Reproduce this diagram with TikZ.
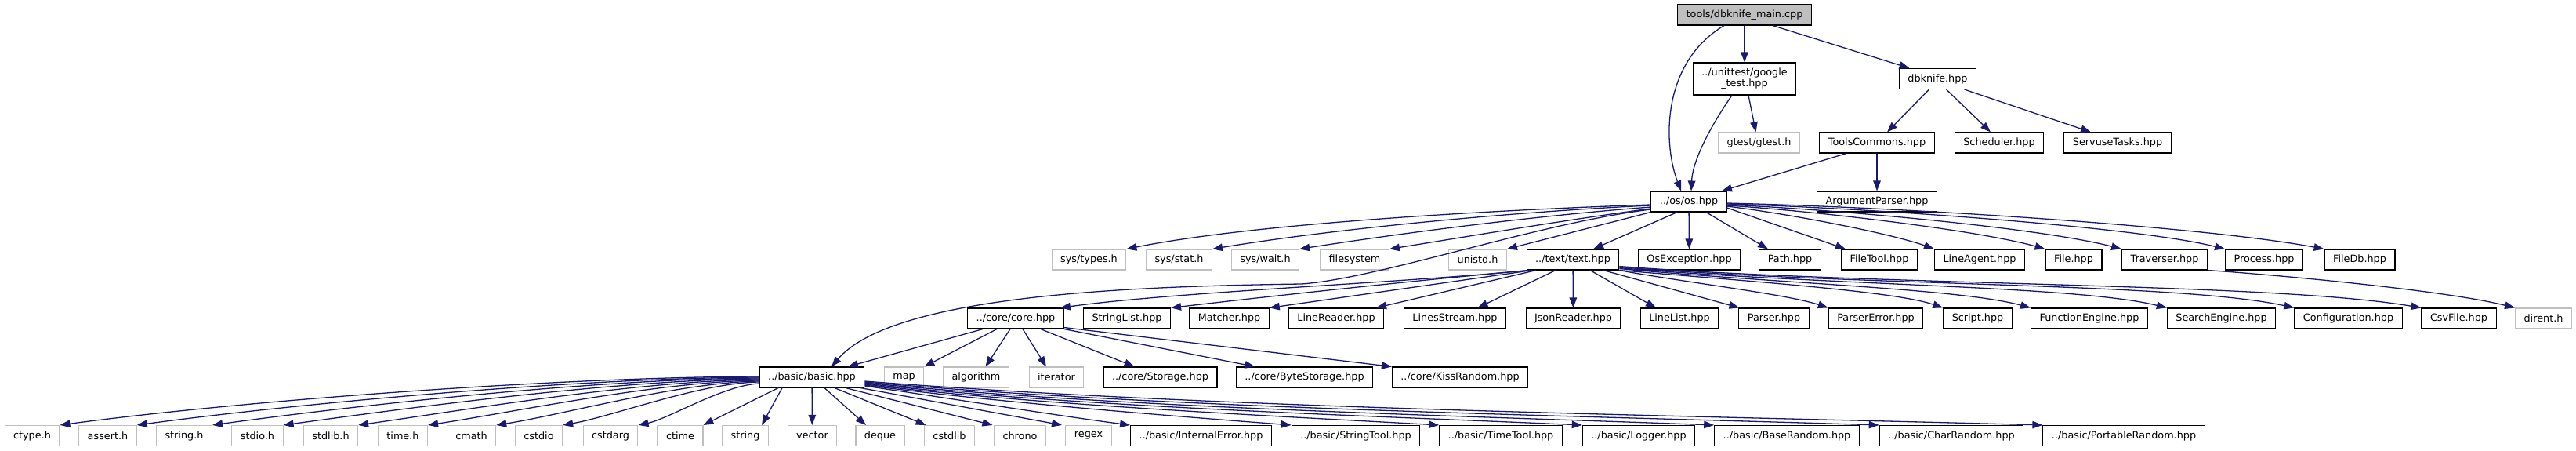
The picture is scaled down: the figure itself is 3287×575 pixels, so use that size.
\documentclass[tikz,border=0pt]{standalone}
\usepackage{fontspec}
\setmainfont{DejaVu Sans}
\usepackage{tikz}
\usetikzlibrary{arrows.meta}
\definecolor{edgeblue}{RGB}{25, 25, 112}
\definecolor{sysgray}{RGB}{191, 191, 191}

\begin{document}
\begin{tikzpicture}[
            x=1pt, y=-1pt,
            hdr/.style={draw=black, fill=white, line width=1.1pt,
                        font=\fontsize{12.8pt}{14pt}\selectfont, align=center,
                        inner xsep=11pt, inner ysep=0pt, minimum height=26pt},
            sys/.style={hdr, draw=sysgray},
            cur/.style={hdr, fill=sysgray},
            arr/.style={-{Triangle[length=13pt,width=9.5pt]}, line width=1.3pt, color=edgeblue}
          ]
          \useasboundingbox (0,0) rectangle (3287,575);
          % top part
          \node[cur] (main)  at (2226,19)    {tools/dbknife\_main.cpp};
          \node[hdr, minimum height=41pt] (gtst) at (2226,100.5) {../unittest/google\\\_test.hpp};
          \node[hdr] (dbk)   at (2472.5,100.5) {dbknife.hpp};
          \node[sys] (gth)   at (2244.5,182) {gtest/gtest.h};
          \node[hdr] (tcom)  at (2395,182)   {ToolsCommons.hpp};
          \node[hdr] (sched) at (2551,182)   {Scheduler.hpp};
          \node[hdr] (servt) at (2702,182)   {ServuseTasks.hpp};
          \node[hdr] (os)    at (2155,257)   {../os/os.hpp};
          \node[hdr] (argp)  at (2395,257)   {ArgumentParser.hpp};
          % includes of os.hpp
          \node[sys] (systy)  at (1389.5,331) {sys/types.h};
          \node[sys] (sysst)  at (1504.5,331) {sys/stat.h};
          \node[sys] (syswt)  at (1614.5,331) {sys/wait.h};
          \node[sys] (fsys)   at (1728.5,331) {filesystem};
          \node[sys] (unis)   at (1885.5,331) {unistd.h};
          \node[hdr] (txt)    at (2007,331)   {../text/text.hpp};
          \node[hdr] (osex)   at (2155.5,331) {OsException.hpp};
          \node[hdr] (ospath) at (2284,331)   {Path.hpp};
          \node[hdr] (ftool)  at (2398,331)   {FileTool.hpp};
          \node[hdr] (lagent) at (2526,331)   {LineAgent.hpp};
          \node[hdr] (file)   at (2646,331)   {File.hpp};
          \node[hdr] (trav)   at (2762,331)   {Traverser.hpp};
          \node[hdr] (proc)   at (2889,331)   {Process.hpp};
          \node[hdr] (fdb)    at (3011,331)   {FileDb.hpp};
          % includes of text.hpp
          \node[hdr] (core)    at (1296,406)   {../core/core.hpp};
          \node[hdr] (slist)   at (1438,406)   {StringList.hpp};
          \node[hdr] (match)   at (1568.5,406) {Matcher.hpp};
          \node[hdr] (lread)   at (1705,406)   {LineReader.hpp};
          \node[hdr] (lstream) at (1856.5,406) {LinesStream.hpp};
          \node[hdr] (jread)   at (2007.5,406) {JsonReader.hpp};
          \node[hdr] (llist)   at (2143,406)   {LineList.hpp};
          \node[hdr] (pars)    at (2263.5,406) {Parser.hpp};
          \node[hdr] (perr)    at (2393.5,406) {ParserError.hpp};
          \node[hdr] (scr)     at (2523.5,406) {Script.hpp};
          \node[hdr] (feng)    at (2666,406)   {FunctionEngine.hpp};
          \node[hdr] (seng)    at (2834.5,406) {SearchEngine.hpp};
          \node[hdr] (conf)    at (2996.5,406) {Configuration.hpp};
          \node[hdr] (csv)     at (3137.5,406) {CsvFile.hpp};
          \node[sys] (dirent)  at (3245.5,406) {dirent.h};
          % includes of core.hpp
          \node[hdr] (basic) at (1036,481)   {../basic/basic.hpp};
          \node[sys] (map)   at (1153.5,481) {map};
          \node[sys] (algo)  at (1245.5,481) {algorithm};
          \node[sys] (iter)  at (1348,481)   {iterator};
          \node[hdr] (stor)  at (1480.5,481) {../core/Storage.hpp};
          \node[hdr] (bstor) at (1664.5,481) {../core/ByteStorage.hpp};
          \node[hdr] (kiss)  at (1863,481)   {../core/KissRandom.hpp};
          % includes of basic.hpp
          \node[sys] (ctype)   at (41,555.5)   {ctype.h};
          \node[sys] (assert)  at (137.5,555.5) {assert.h};
          \node[sys] (strh)    at (235,555.5)  {string.h};
          \node[sys] (stdio)   at (328.5,555.5) {stdio.h};
          \node[sys] (stdlib)  at (422,555.5)  {stdlib.h};
          \node[sys] (timeh)   at (514,555.5)  {time.h};
          \node[sys] (cmath)   at (601.5,555.5) {cmath};
          \node[sys] (cstdio)  at (687.5,555.5) {cstdio};
          \node[sys] (cstdarg) at (779,555.5)  {cstdarg};
          \node[sys] (ctime)   at (868,555.5)  {ctime};
          \node[sys] (string)  at (951,555.5)  {string};
          \node[sys] (vector)  at (1036.5,555.5) {vector};
          \node[sys] (deque)   at (1123,555.5) {deque};
          \node[sys] (cstdlib) at (1211.5,555.5) {cstdlib};
          \node[sys] (chrono)  at (1301.5,555.5) {chrono};
          \node[sys] (regex)   at (1389,555.5) {regex};
          \node[hdr] (interr)  at (1532.5,555.5) {../basic/InternalError.hpp};
          \node[hdr] (stool)   at (1730,555.5) {../basic/StringTool.hpp};
          \node[hdr] (ttool)   at (1915,555.5) {../basic/TimeTool.hpp};
          \node[hdr] (logger)  at (2091,555.5) {../basic/Logger.hpp};
          \node[hdr] (brand)   at (2280,555.5) {../basic/BaseRandom.hpp};
          \node[hdr] (crand)   at (2490,555.5) {../basic/CharRandom.hpp};
          \node[hdr] (prand)   at (2710,555.5) {../basic/PortableRandom.hpp};
          % edges of the top part
          \draw[arr] (main)--(gtst);
          \draw[arr] ([xshift=36pt]main.south)--([xshift=-36pt]dbk.north);
          \draw[arr] ([xshift=-26pt]main.south) .. controls (2120,80) and (2122,183) .. ([xshift=-10pt]os.north);
          \draw[arr] ([xshift=-16pt]gtst.south) .. controls (2190,150) and (2160,200) .. ([xshift=3pt]os.north);
          \draw[arr] ([xshift=5pt]gtst.south)--([xshift=-4pt]gth.north);
          \draw[arr] ([xshift=-11pt]dbk.south)--([xshift=13pt]tcom.north);
          \draw[arr] ([xshift=11pt]dbk.south)--([xshift=-11pt]sched.north);
          \draw[arr] ([xshift=34pt]dbk.south)--([xshift=-34pt]servt.north);
          \draw[arr] ([xshift=-39pt]tcom.south)--([xshift=42pt]os.north);
          \draw[arr] (tcom)--(argp);
          % edges of os.hpp
          \draw[arr] ([yshift=-4pt]os.west) .. controls (1900,268) and (1600,285) .. (systy.north east);
          \draw[arr] ([yshift=-5pt]os.west) .. controls (1930,270) and (1700,292) .. (sysst.north east);
          \draw[arr] ([yshift=-7pt]os.west) .. controls (1960,275) and (1790,297) .. (syswt.north east);
          \draw[arr] ([yshift=-9pt]os.west) .. controls (2000,280) and (1870,302) .. (fsys.north east);
          \draw[arr] ([yshift=-10pt]os.west) .. controls (1960,285) and (1760,355) .. (1661,362)
                     .. controls (1450,365) and (1140,375) .. ([xshift=25pt]basic.north);
          \draw[arr] (os.south west)--(unis.north east);
          \draw[arr] ([xshift=-15pt]os.south)--([xshift=26pt]txt.north);
          \draw[arr] (os)--(osex);
          \draw[arr] ([xshift=22pt]os.south)--([xshift=-28pt]ospath.north);
          \draw[arr] ([yshift=-8pt]os.east)--([xshift=-43pt]ftool.north);
          \draw[arr] ([yshift=-6pt]os.east) .. controls (2300,275) and (2420,300) .. (lagent.north west);
          \draw[arr] ([yshift=-5pt]os.east) .. controls (2330,270) and (2530,295) .. (file.north west);
          \draw[arr] ([yshift=-4pt]os.east) .. controls (2360,268) and (2610,292) .. (trav.north west);
          \draw[arr] ([yshift=-3pt]os.east) .. controls (2400,266) and (2730,290) .. (proc.north west);
          \draw[arr] ([yshift=-2pt]os.east) .. controls (2450,265) and (2820,290) .. (fdb.north west);
          % edges of text.hpp
          \draw[arr] ([xshift=-57pt]txt.south) .. controls (1800,360) and (1500,372) .. ([xshift=-5pt]core.north east);
          \draw[arr] ([xshift=-55pt]txt.south) .. controls (1800,358) and (1600,380) .. (slist.north east);
          \draw[arr] ([xshift=-52pt]txt.south)--(match.north east);
          \draw[arr] ([xshift=-47pt]txt.south)--([xshift=51pt]lread.north);
          \draw[arr] ([xshift=-22pt]txt.south)--([xshift=29pt]lstream.north);
          \draw[arr] (txt)--(jread);
          \draw[arr] ([xshift=22pt]txt.south)--([xshift=-30pt]llist.north);
          \draw[arr] ([xshift=39pt]txt.south)--([xshift=-44pt]pars.north);
          \draw[arr] ([xshift=59pt]txt.south) .. controls (2150,360) and (2280,375) .. (perr.north west);
          \draw[arr] (txt.south east) .. controls (2250,360) and (2420,372) .. (scr.north west);
          \draw[arr] ([yshift=2pt]txt.south east) .. controls (2280,362) and (2500,368) .. (feng.north west);
          \draw[arr] ([yshift=3pt]txt.south east) .. controls (2330,364) and (2650,364) .. (seng.north west);
          \draw[arr] ([yshift=4pt]txt.south east) .. controls (2370,365) and (2780,360) .. (conf.north west);
          \draw[arr] ([yshift=5pt]txt.south east) .. controls (2400,365) and (2900,360) .. (csv.north west);
          \draw[arr] (trav.south east) .. controls (2900,350) and (3120,370) .. (dirent.north west);
          % edges of core.hpp
          \draw[arr] ([xshift=-42pt]core.south)--([xshift=46pt]basic.north);
          \draw[arr] ([xshift=-24pt]core.south)--(map.north east);
          \draw[arr] ([xshift=-7pt]core.south)--([xshift=12pt]algo.north);
          \draw[arr] ([xshift=9pt]core.south)--([xshift=-13pt]iter.north);
          \draw[arr] ([xshift=32pt]core.south)--([xshift=-33pt]stor.north);
          \draw[arr] (core.south east)--([xshift=-63pt]bstor.north);
          \draw[arr] ([yshift=2pt]core.south east)--(kiss.north west);
          % edges of basic.hpp
          \draw[arr] ([yshift=1pt]basic.west) .. controls (702,481) and (300,512) .. (ctype.north east);
          \draw[arr] (basic.west) .. controls (732,482) and (374,515) .. (assert.north east);
          \draw[arr] ([yshift=-1pt]basic.west) .. controls (760,483) and (445,518) .. (strh.north east);
          \draw[arr] ([yshift=-2pt]basic.west) .. controls (788,484) and (514,521) .. (stdio.north east);
          \draw[arr] ([yshift=-3pt]basic.west) .. controls (816,485) and (585,524) .. (stdlib.north east);
          \draw[arr] ([yshift=-4pt]basic.west) .. controls (843,486) and (652,526) .. (timeh.north east);
          \draw[arr] ([yshift=-5pt]basic.west) .. controls (869,487) and (717,529) .. (cmath.north east);
          \draw[arr] ([yshift=-6pt]basic.west) .. controls (894,488) and (781,531) .. (cstdio.north east);
          \draw[arr] ([yshift=-8pt]basic.west) .. controls (923,491) and (853,534) .. (cstdarg.north east);
          \draw[arr] ([xshift=-43pt]basic.south)--(ctime.north east);
          \draw[arr] ([xshift=-38pt]basic.south)--([xshift=21pt]string.north);
          \draw[arr] (basic)--(vector);
          \draw[arr] ([xshift=16pt]basic.south)--([xshift=-18pt]deque.north);
          \draw[arr] ([xshift=29pt]basic.south)--([xshift=-30pt]cstdlib.north);
          \draw[arr] ([xshift=43pt]basic.south)--([xshift=-35pt]chrono.north);
          \draw[arr] ([xshift=62pt]basic.south)--([xshift=-34pt]regex.north);
          \draw[arr] ([yshift=-11pt]basic.east) .. controls (1200,506) and (1350,530) .. (interr.north west);
          \draw[arr] ([yshift=-10pt]basic.east) .. controls (1265,512) and (1490,530) .. (stool.north west);
          \draw[arr] ([yshift=-9pt]basic.east) .. controls (1320,516) and (1620,530) .. (ttool.north west);
          \draw[arr] ([yshift=-8pt]basic.east) .. controls (1378,519) and (1745,530) .. (logger.north west);
          \draw[arr] ([yshift=-7pt]basic.east) .. controls (1428,520) and (1862,530) .. (brand.north west);
          \draw[arr] ([yshift=-6pt]basic.east) .. controls (1492,521) and (2010,530) .. (crand.north west);
          \draw[arr] ([yshift=-5pt]basic.east) .. controls (1554,521) and (2155,530) .. (prand.north west);
        \end{tikzpicture}
\end{document}
